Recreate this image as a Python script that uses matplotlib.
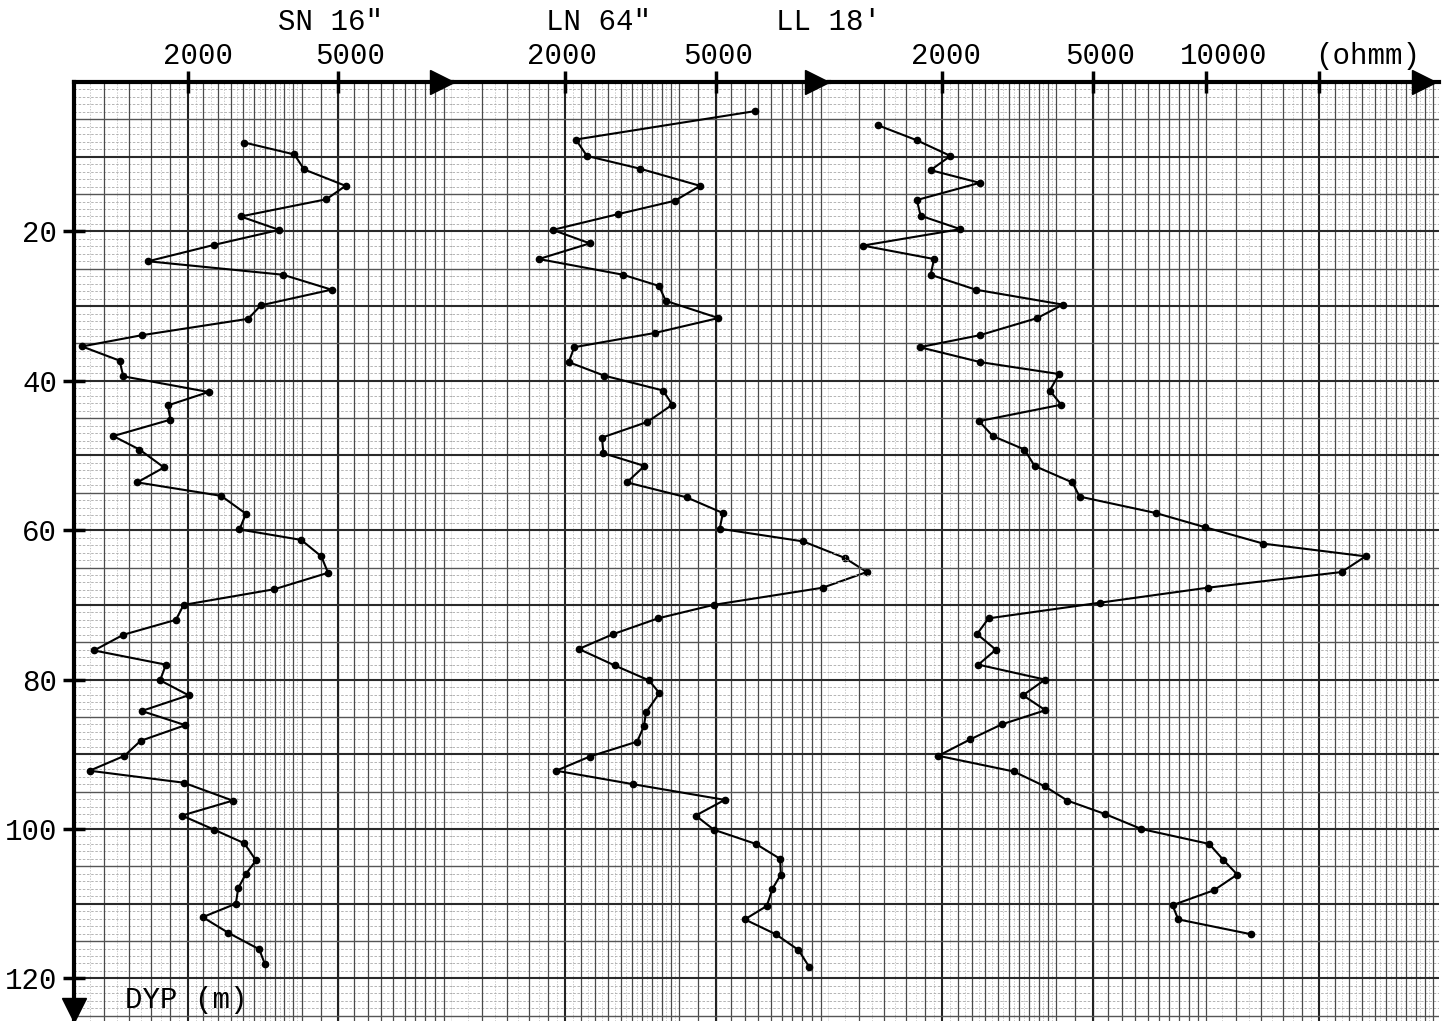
import numpy as np
import matplotlib
matplotlib.use("Agg")
import matplotlib.pyplot as plt
from matplotlib.ticker import NullLocator
from matplotlib.transforms import ScaledTranslation

plt.rcParams['font.family'] = ['Liberation Mono', 'DejaVu Sans Mono']

# SN 16" (short normal)
sn_depth = [8.1, 9.7, 11.7, 13.9, 15.7, 18.0, 19.8, 21.8, 24.0, 25.8, 27.8, 29.9, 31.7, 33.9,
            35.4, 37.3, 39.4, 41.5, 43.3, 45.2, 47.4, 49.2, 51.6, 53.6, 55.4, 57.8, 59.9, 61.3,
            63.5, 65.7, 67.9, 70.0, 72.0, 74.0, 76.1, 78.0, 80.1, 82.1, 84.2, 86.1, 88.2, 90.2,
            92.2, 93.8, 96.2, 98.2, 100.1, 101.9, 104.2, 106.0, 107.9, 110.0, 111.8, 113.9,
            116.1, 118.1]
sn_ohmm = [2820, 3830, 4060, 5230, 4650, 2760, 3490, 2350, 1570, 3570, 4800, 3120, 2890, 1510,
           1050, 1320, 1350, 2270, 1770, 1800, 1270, 1490, 1730, 1470, 2450, 2850, 2740, 3990,
           4510, 4700, 3390, 1950, 1860, 1350, 1130, 1750, 1690, 2010, 1510, 1970, 1500, 1360,
           1100, 1950, 2630, 1930, 2350, 2820, 3030, 2850, 2720, 2680, 2190, 2560, 3090, 3200]

# LN 64" (long normal)
ln_depth = [3.9, 7.7, 9.9, 11.6, 13.9, 15.9, 17.7, 19.8, 21.6, 23.7, 25.8, 27.3, 29.3, 31.6,
            33.6, 35.5, 37.5, 39.3, 41.3, 43.2, 45.5, 47.6, 49.7, 51.4, 53.6, 55.6, 57.7, 59.8,
            61.5, 63.7, 65.6, 67.7, 70.0, 71.8, 73.9, 75.9, 78.1, 80.1, 81.8, 84.4, 86.2, 88.3,
            90.3, 92.2, 94.0, 96.1, 98.2, 100.1, 102.0, 104.0, 106.1, 108.0, 110.3, 112.1,
            114.1, 116.2, 118.5]
ln_ohmm = [6360, 2130, 2280, 3150, 4550, 3900, 2750, 1850, 2320, 1700, 2840, 3540, 3690, 5090,
           3450, 2110, 2040, 2530, 3630, 3840, 3300, 2500, 2520, 3240, 2910, 4190, 5230, 5130,
           8540, 11000, 12600, 9620, 4940, 3520, 2680, 2170, 2700, 3330, 3550, 3270, 3230, 3100,
           2320, 1890, 3020, 5290, 4430, 4950, 6400, 7420, 7450, 7080, 6840, 5980, 7230, 8300,
           8870]

# LL 18' (laterolog)
ll_depth = [5.8, 7.8, 9.9, 11.8, 13.5, 15.8, 17.9, 19.7, 21.9, 23.7, 25.8, 27.8, 29.8, 31.6,
            33.9, 35.5, 37.5, 39.1, 41.3, 43.2, 45.4, 47.4, 49.2, 51.4, 53.6, 55.5, 57.7, 59.6,
            61.8, 63.5, 65.6, 67.7, 69.7, 71.8, 73.9, 76.0, 78.0, 80.0, 82.1, 84.1, 86.0, 88.0,
            90.2, 92.3, 94.3, 96.2, 98.0, 100.0, 102.0, 104.1, 106.1, 108.2, 110.2, 112.1, 114.1]
ll_ohmm = [1350, 1710, 2100, 1860, 2510, 1710, 1750, 2230, 1230, 1900, 1860, 2450, 4170, 3570,
           2510, 1740, 2520, 4080, 3850, 4130, 2500, 2720, 3300, 3510, 4420, 4620, 7360, 9940,
           14200, 26500, 22900, 10100, 5240, 2650, 2470, 2770, 2490, 3740, 3270, 3750, 2870,
           2370, 1950, 3090, 3740, 4290, 5400, 6740, 10200, 11100, 12100, 10500, 8150, 8440,
           13200]

depth_ticks = [20, 40, 60, 80, 100, 120]

W, H = 1447, 1021
fig = plt.figure(figsize=(W / 100, H / 100), dpi=100)
fig.patch.set_facecolor('white')

top_px = 82
ax_h = (H - top_px) / H
ax1 = fig.add_axes([74 / W, 0, 378 / W, ax_h])
ax2 = fig.add_axes([452 / W, 0, 377 / W, ax_h])
ax3 = fig.add_axes([829 / W, 0, 610 / W, ax_h])
xmax3 = 1000 * 10 ** (610 / 377)


def paper_grid(ax, hi):
    # log-cycle graph paper
    dec = 1000
    while dec < hi:
        for m in np.arange(1.1, 4.0, 0.2):
            ax.axvline(dec * m, color='#b4b4b4', lw=0.5, ls=(0, (2, 2)), zorder=0)
        for m in list(np.arange(1.2, 4.01, 0.2)) + list(np.arange(4.5, 10, 0.5)):
            if abs(m - 2) < 1e-6:
                continue
            ax.axvline(dec * m, color='#4a4a4a', lw=0.9, zorder=1)
        for m in (2, 5):
            ax.axvline(dec * m, color='#222222', lw=1.5, zorder=1)
        ax.axvline(dec * 10, color='#4a4a4a', lw=0.9, zorder=1)
        dec *= 10
    for d in range(1, 127):
        if d % 10 == 0:
            ax.axhline(d, color='#2a2a2a', lw=1.5, zorder=1)
        elif d % 5 == 0:
            ax.axhline(d, color='#555555', lw=1.0, zorder=1)
        else:
            ax.axhline(d, color='#a8a8a8', lw=0.6, ls=(0, (3, 2)), zorder=0)


tracks = [(ax1, sn_depth, sn_ohmm, 10000, [2000, 5000], ['2000', '5000'], [10, 12]),
          (ax2, ln_depth, ln_ohmm, 10000, [2000, 5000], ['2000', '5000'], [-3, 3]),
          (ax3, ll_depth, ll_ohmm, xmax3, [2000, 5000, 10000, 20000],
           ['2000', '5000', '10000', '(ohmm)'], [4, 8, 18, 48])]

for ax, dep, val, hi, ticks, labels, shifts in tracks:
    ax.set_xscale('log')
    ax.set_xlim(1000, hi)
    ax.set_ylim((H - top_px) / 7.47, 0)
    paper_grid(ax, hi)
    ax.plot(val, dep, color='black', lw=1.5, marker='o', ms=4.5, zorder=4, clip_on=False)
    for s in ['left', 'right', 'bottom']:
        ax.spines[s].set_visible(False)
    ax.spines['top'].set_linewidth(3)
    ax.spines['top'].set_zorder(5)
    ax.xaxis.tick_top()
    ax.set_xticks(ticks)
    ax.set_xticklabels(labels)
    ax.xaxis.set_minor_locator(NullLocator())
    ax.tick_params(axis='x', direction='inout', length=16, width=2.5, pad=1, labelsize=21)
    ax.tick_params(axis='y', left=False, labelleft=False)
    ax.set_facecolor('none')
    for lab, dx in zip(ax.get_xticklabels(), shifts):
        lab.set_transform(lab.get_transform() + ScaledTranslation(dx / 100, 0, fig.dpi_scale_trans))

# depth axis
ax1.spines['left'].set_visible(True)
ax1.spines['left'].set_linewidth(3)
ax1.spines['left'].set_zorder(5)
ax1.tick_params(axis='y', left=True, labelleft=True, direction='inout', length=16,
                width=2.5, pad=4, labelsize=21)
ax1.set_yticks(depth_ticks)
ax1.set_yticklabels([str(t) for t in depth_ticks])

# arrow heads on the axes
for ax, fx in [(ax1, 0.973), (ax2, 0.968), (ax3, 0.976)]:
    ax.plot([fx], [1], marker='>', ms=17, color='black', transform=ax.transAxes,
            clip_on=False, zorder=6)
ax1.plot([0], [0.012], marker='v', ms=17, color='black', transform=ax1.transAxes,
         clip_on=False, zorder=6)

fig.text(331 / W, 1 - 22 / H, 'SN 16"', ha='center', va='center', fontsize=21)
fig.text(598 / W, 1 - 22 / H, 'LN 64"', ha='center', va='center', fontsize=21)
fig.text(828 / W, 1 - 22 / H, "LL 18'", ha='center', va='center', fontsize=21)
fig.text(125 / W, 1 - 1000 / H, 'DYP (m)', ha='left', va='center', fontsize=21)

fig.savefig('out.png', dpi=100, facecolor='white')
